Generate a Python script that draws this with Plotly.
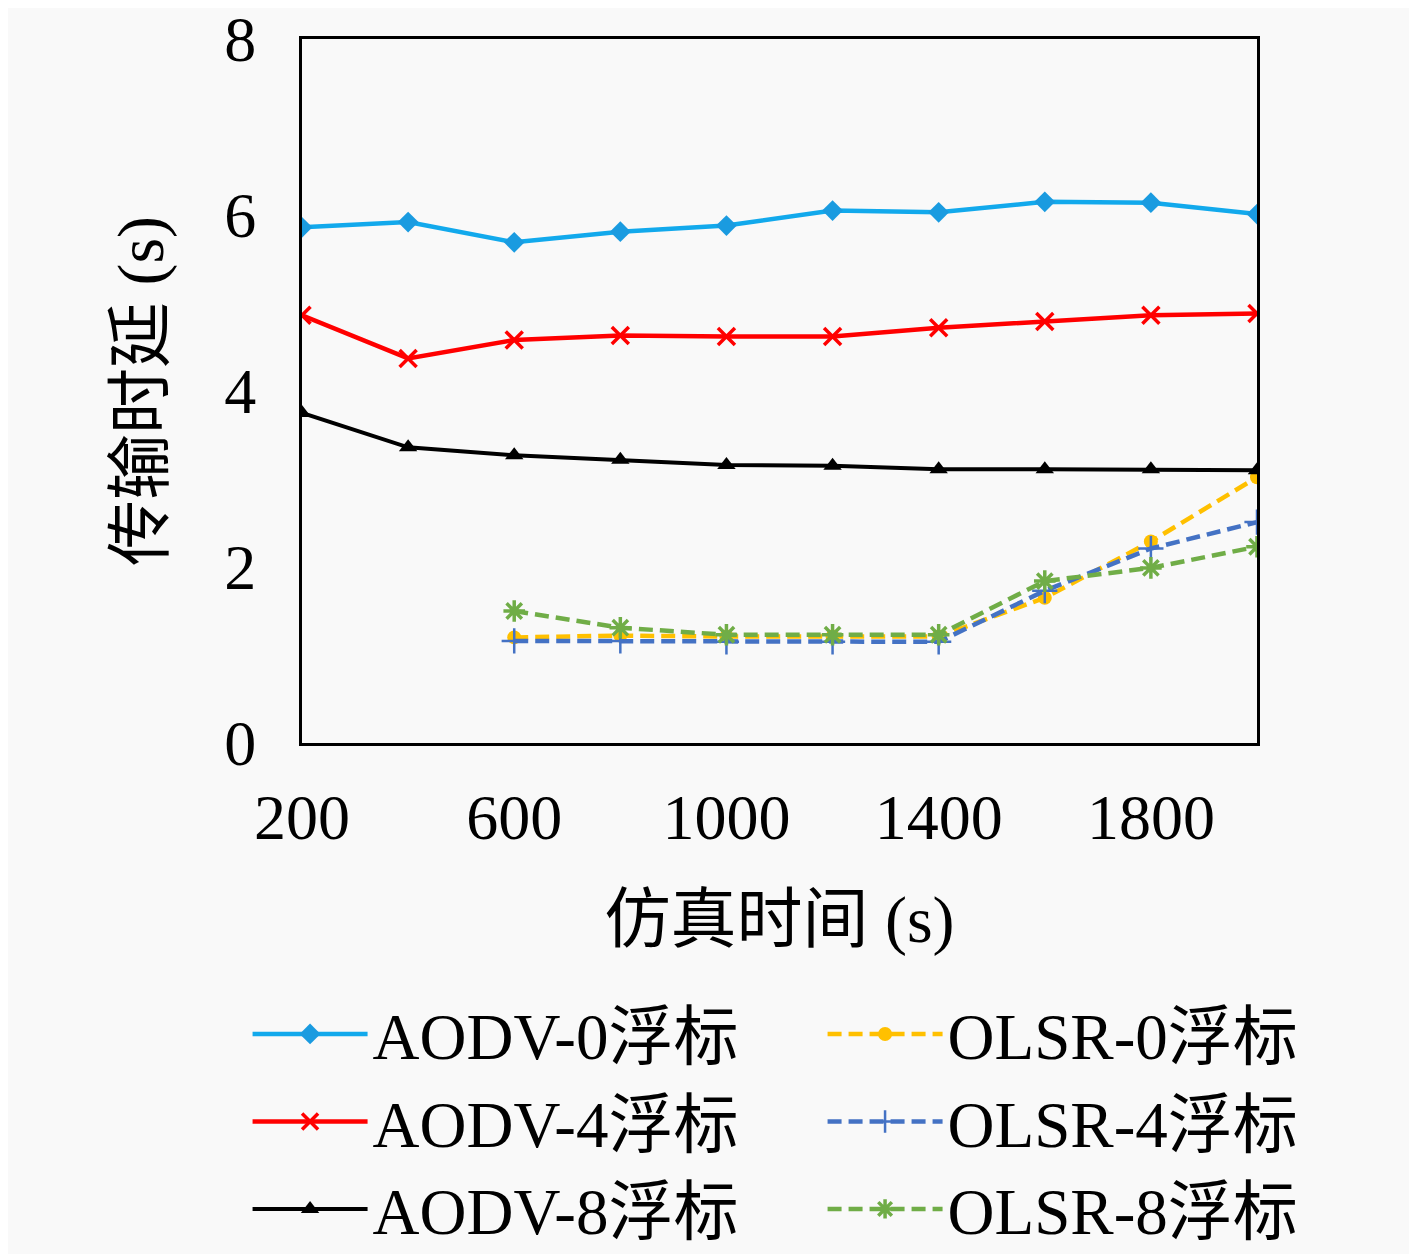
import plotly.graph_objects as go

# 仿真时间 (s)
sim_time = [200, 400, 600, 800, 1000, 1200, 1400, 1600, 1800, 2000]
olsr_time = [600, 800, 1000, 1200, 1400, 1600, 1800, 2000]

# 传输时延 (s)
aodv_0 = [5.86, 5.92, 5.69, 5.81, 5.88, 6.05, 6.03, 6.15, 6.14, 6.01]
aodv_4 = [4.86, 4.37, 4.58, 4.63, 4.62, 4.62, 4.72, 4.79, 4.86, 4.88]
aodv_8 = [3.75, 3.36, 3.27, 3.22, 3.16, 3.15, 3.11, 3.11, 3.11, 3.10]
olsr_0 = [1.20, 1.22, 1.21, 1.21, 1.21, 1.65, 2.29, 3.02]
olsr_4 = [1.16, 1.16, 1.15, 1.15, 1.15, 1.73, 2.21, 2.51]
olsr_8 = [1.50, 1.31, 1.23, 1.23, 1.23, 1.84, 1.99, 2.23]

x_ticks = [200, 600, 1000, 1400, 1800]
y_ticks = [0, 2, 4, 6, 8]

FONT = "Liberation Serif, Noto Sans CJK SC, serif"
DASH = "14px,7px"

fig = go.Figure()

# 图例按行排列: 左列 AODV, 右列 OLSR
fig.add_trace(go.Scatter(x=sim_time, y=aodv_0, name="AODV-0浮标", mode="lines+markers",
                         line=dict(color="#12A9EC", width=4.5),
                         marker=dict(symbol="diamond", size=16, color="#1A9BE0")))
fig.add_trace(go.Scatter(x=olsr_time, y=olsr_0, name="OLSR-0浮标", mode="lines+markers",
                         line=dict(color="#FFC000", width=4.5, dash=DASH),
                         marker=dict(symbol="circle", size=14, color="#FFC000")))
fig.add_trace(go.Scatter(x=sim_time, y=aodv_4, name="AODV-4浮标", mode="lines+markers",
                         line=dict(color="#FF0000", width=4.5),
                         marker=dict(symbol="x-thin-open", size=17,
                                     line=dict(color="#FF0000", width=3.5))))
fig.add_trace(go.Scatter(x=olsr_time, y=olsr_4, name="OLSR-4浮标", mode="lines+markers",
                         line=dict(color="#4472C4", width=4.5, dash=DASH),
                         marker=dict(symbol="cross-thin-open", size=18,
                                     line=dict(color="#4472C4", width=2.5))))
fig.add_trace(go.Scatter(x=sim_time, y=aodv_8, name="AODV-8浮标", mode="lines+markers",
                         line=dict(color="#000000", width=4),
                         marker=dict(symbol="triangle-up", size=16, color="#000000")))
fig.add_trace(go.Scatter(x=olsr_time, y=olsr_8, name="OLSR-8浮标", mode="lines+markers",
                         line=dict(color="#70AD47", width=4.5, dash=DASH),
                         marker=dict(symbol="asterisk-open", size=18,
                                     line=dict(color="#70AD47", width=3.5))))

fig.update_layout(
    width=1409, height=1246,
    paper_bgcolor="#F9F9F9", plot_bgcolor="#F9F9F9",
    font=dict(family=FONT, size=64, color="#000000"),
    margin=dict(l=294, r=160, t=31, b=511, autoexpand=False),
    showlegend=True,
    legend=dict(orientation="h", x=-0.057, xanchor="left", y=-0.344, yanchor="top",
                entrywidth=445, entrywidthmode="pixels",
                font=dict(family=FONT, size=65), bgcolor="rgba(0,0,0,0)",
                itemwidth=115),
)

fig.update_xaxes(
    range=[200, 2000], tickvals=x_ticks, ticks="", showgrid=False, zeroline=False,
    showline=True, linecolor="#000000", linewidth=3, mirror=True,
    tickfont=dict(family=FONT, size=64), ticklabelstandoff=16,
    title=dict(text="仿真时间 (s)", font=dict(family=FONT, size=66), standoff=45),
)
fig.update_yaxes(
    range=[0, 8], tickvals=y_ticks, ticks="", showgrid=False, zeroline=False,
    showline=True, linecolor="#000000", linewidth=3, mirror=True,
    tickfont=dict(family=FONT, size=64), ticklabelstandoff=30,
    ticklabeloverflow="allow",
    title=dict(text="传输时延 (s)", font=dict(family=FONT, size=66), standoff=40),
)

fig.write_html("out.html")
